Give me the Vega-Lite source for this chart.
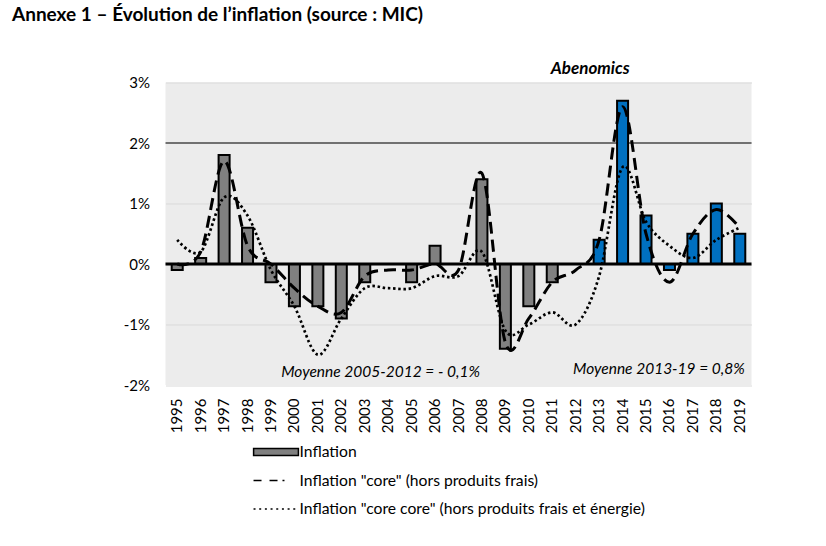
{
  "$schema": "https://vega.github.io/schema/vega-lite/v6.json",
  "width": 586,
  "height": 302.5,
  "autosize": "none",
  "padding": {"left": 165.5, "top": 82.5, "right": 74.5, "bottom": 161},
  "background": "white",
  "title": {
    "text": "Annexe 1 – Évolution de l’inflation (source : MIC)",
    "anchor": "start",
    "frame": "group",
    "dx": -153.5,
    "offset": 35,
    "font": "Lato",
    "fontSize": 19,
    "fontWeight": "bold",
    "color": "black"
  },
  "config": {
    "view": {"stroke": null, "fill": "#ececec"},
    "font": "Lato"
  },
  "datasets": {
    "cpi": [
      {"year": 1995, "inflation": -0.1, "core": 0.0, "corecore": 0.4},
      {"year": 1996, "inflation": 0.1, "core": 0.2, "corecore": 0.2},
      {"year": 1997, "inflation": 1.8, "core": 1.7, "corecore": 1.1},
      {"year": 1998, "inflation": 0.6, "core": 0.3, "corecore": 0.8},
      {"year": 1999, "inflation": -0.3, "core": 0.0, "corecore": -0.1},
      {"year": 2000, "inflation": -0.7, "core": -0.4, "corecore": -0.7},
      {"year": 2001, "inflation": -0.7, "core": -0.7, "corecore": -1.5},
      {"year": 2002, "inflation": -0.9, "core": -0.8, "corecore": -0.9},
      {"year": 2003, "inflation": -0.3, "core": -0.2, "corecore": -0.4},
      {"year": 2004, "inflation": 0.0, "core": -0.1, "corecore": -0.4},
      {"year": 2005, "inflation": -0.3, "core": -0.1, "corecore": -0.4},
      {"year": 2006, "inflation": 0.3, "core": 0.0, "corecore": -0.2},
      {"year": 2007, "inflation": 0.0, "core": -0.1, "corecore": -0.2},
      {"year": 2008, "inflation": 1.4, "core": 1.5, "corecore": 0.2},
      {"year": 2009, "inflation": -1.4, "core": -1.3, "corecore": -1.1},
      {"year": 2010, "inflation": -0.7, "core": -0.9, "corecore": -1.0},
      {"year": 2011, "inflation": -0.3, "core": -0.3, "corecore": -0.8},
      {"year": 2012, "inflation": 0.0, "core": -0.1, "corecore": -1.0},
      {"year": 2013, "inflation": 0.4, "core": 0.4, "corecore": -0.2},
      {"year": 2014, "inflation": 2.7, "core": 2.6, "corecore": 1.6},
      {"year": 2015, "inflation": 0.8, "core": 0.5, "corecore": 0.7},
      {"year": 2016, "inflation": -0.1, "core": -0.3, "corecore": 0.3},
      {"year": 2017, "inflation": 0.5, "core": 0.5, "corecore": 0.1},
      {"year": 2018, "inflation": 1.0, "core": 0.9, "corecore": 0.4},
      {"year": 2019, "inflation": 0.5, "core": 0.6, "corecore": 0.6}
    ],
    "notes": [
      {"label": "Abenomics", "year": 2013, "value": 3.23},
      {"label": "Moyenne 2005-2012 = - 0,1%", "year": 2008, "value": -1.78},
      {"label": "Moyenne 2013-19 = 0,8%", "year": 2019, "value": -1.74}
    ]
  },
  "data": {"name": "cpi"},
  "encoding": {
    "x": {
      "field": "year",
      "type": "ordinal",
      "scale": {"paddingInner": 0.53, "paddingOuter": 0.265},
      "axis": {
        "title": null,
        "labelAngle": 270,
        "domain": false,
        "ticks": false,
        "labelPadding": 13,
        "labelFont": "Lato",
        "labelFontSize": 15,
        "labelColor": "black"
      }
    }
  },
  "layer": [
    {
      "data": {"values": [{"ref": 2}]},
      "mark": {"type": "rule", "color": "black", "strokeWidth": 1},
      "encoding": {
        "x": null,
        "y": {"field": "ref", "type": "quantitative"}
      }
    },
    {
      "mark": {"type": "bar", "stroke": "black", "strokeWidth": 2},
      "encoding": {
        "y": {
          "field": "inflation",
          "type": "quantitative",
          "scale": {"domain": [-2, 3], "nice": false},
          "axis": {
            "title": null,
            "values": [-2, -1, 0, 1, 2, 3],
            "labelExpr": "datum.value + '%'",
            "grid": true,
            "gridColor": "#d9d9d9",
            "gridWidth": 1,
            "domain": false,
            "ticks": false,
            "labelPadding": 16,
            "labelFont": "Lato",
            "labelFontSize": 15,
            "labelColor": "black"
          }
        },
        "color": {
          "condition": {"test": "datum.year >= 2013", "value": "#0070C0"},
          "value": "#808080"
        }
      }
    },
    {
      "data": {"values": [{"ref": 0}]},
      "mark": {"type": "rule", "color": "black", "strokeWidth": 3},
      "encoding": {
        "x": null,
        "y": {"field": "ref", "type": "quantitative"}
      }
    },
    {
      "mark": {"type": "line", "interpolate": "cardinal", "stroke": "black", "strokeWidth": 3, "strokeDash": [12, 6]},
      "encoding": {
        "y": {"field": "core", "type": "quantitative"}
      }
    },
    {
      "mark": {"type": "line", "interpolate": "cardinal", "stroke": "black", "strokeWidth": 2.7, "strokeDash": [2.5, 2.7]},
      "encoding": {
        "y": {"field": "corecore", "type": "quantitative"}
      }
    },
    {
      "transform": [{"fold": ["inflation", "core", "corecore"], "as": ["series", "v"]}],
      "mark": {"type": "point", "opacity": 0, "filled": true, "fill": "#808080", "stroke": "black"},
      "encoding": {
        "y": {"field": "v", "type": "quantitative"},
        "shape": {
          "field": "series",
          "type": "nominal",
          "scale": {
            "domain": ["inflation", "core", "corecore"],
            "range": [
              "M-2.8,-0.45H2.8V0.45H-2.8Z",
              "M-2.81,0H-1.81M-0.81,0H0.19M0.81,0H1.06",
              "M-2.81,0H-2.56M-2.1,0H-1.85M-1.39,0H-1.14M-0.68,0H-0.43M0.03,0H0.28M0.74,0H0.99M1.45,0H1.7M2.16,0H2.41"
            ]
          },
          "legend": {
            "orient": "none",
            "legendX": 101.5,
            "legendY": 360.5,
            "title": null,
            "direction": "vertical",
            "symbolSize": 256,
            "padding": 0,
            "rowPadding": 11.5,
            "labelOffset": 14.5,
            "labelFont": "Lato",
            "labelFontSize": 15.7,
            "labelColor": "black",
            "labelLimit": 500,
            "labelExpr": "datum.label == 'inflation' ? 'Inflation' : datum.label == 'core' ? 'Inflation \"core\" (hors produits frais)' : 'Inflation \"core core\" (hors produits frais et énergie)'",
            "encode": {
              "symbols": {
                "opacity": {"value": 1},
                "fill": {"value": "#808080"},
                "fillOpacity": {"value": 1},
                "stroke": {"value": "black"},
                "strokeOpacity": {"value": 1},
                "strokeWidth": {"value": 2.5}
              }
            }
          }
        }
      }
    },
    {
      "data": {"name": "notes"},
      "transform": [{"filter": "datum.year == 2013"}],
      "mark": {"type": "text", "font": "Lato", "fontSize": 17, "fontStyle": "italic", "fontWeight": "bold", "color": "black", "align": "center", "baseline": "middle", "dx": -9},
      "encoding": {
        "y": {"field": "value", "type": "quantitative"},
        "text": {"field": "label"}
      }
    },
    {
      "data": {"name": "notes"},
      "transform": [{"filter": "datum.year == 2008"}],
      "mark": {"type": "text", "font": "Lato", "fontSize": 15.5, "fontStyle": "italic", "color": "black", "align": "right", "baseline": "middle", "dx": -2},
      "encoding": {
        "y": {"field": "value", "type": "quantitative"},
        "text": {"field": "label"}
      }
    },
    {
      "data": {"name": "notes"},
      "transform": [{"filter": "datum.year == 2019"}],
      "mark": {"type": "text", "font": "Lato", "fontSize": 15.5, "fontStyle": "italic", "color": "black", "align": "right", "baseline": "middle", "dx": 5},
      "encoding": {
        "y": {"field": "value", "type": "quantitative"},
        "text": {"field": "label"}
      }
    }
  ]
}
